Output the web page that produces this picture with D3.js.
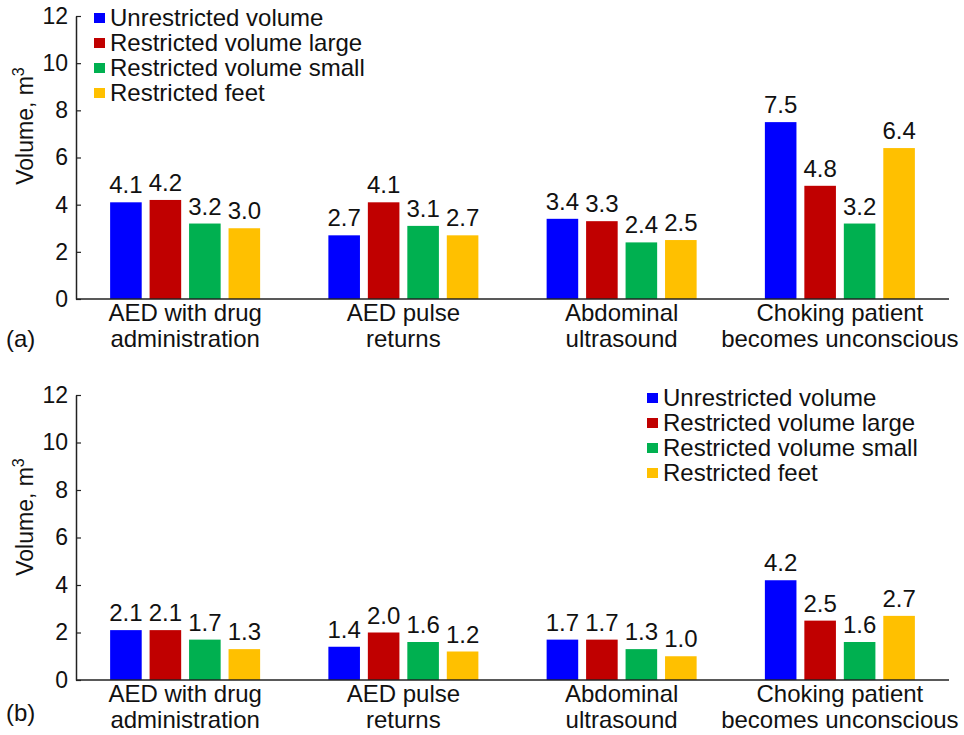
<!DOCTYPE html>
<html>
<head>
<meta charset="utf-8">
<script src="https://cdn.jsdelivr.net/npm/d3@7"></script>
<style>
  html, body { margin: 0; padding: 0; background: #fff; }
  svg { display: block; font-family: "Liberation Sans", Arial, sans-serif; }
</style>
</head>
<body>
<svg id="chart" width="964" height="735"></svg>
<script>
const categories = [
  ["AED with drug", "administration"],
  ["AED pulse", "returns"],
  ["Abdominal", "ultrasound"],
  ["Choking patient", "becomes unconscious"]
];
const seriesNames = ["Unrestricted volume", "Restricted volume large", "Restricted volume small", "Restricted feet"];
const seriesColors = ["#0000FF", "#C00000", "#00B050", "#FFC000"];
const yTicks = [0, 2, 4, 6, 8, 10, 12];

// Panel (a) values, per category, per series
const valuesA = [
  [4.1, 4.2, 3.2, 3.0],
  [2.7, 4.1, 3.1, 2.7],
  [3.4, 3.3, 2.4, 2.5],
  [7.5, 4.8, 3.2, 6.4]
];
// Panel (b) values
const valuesB = [
  [2.1, 2.1, 1.7, 1.3],
  [1.4, 2.0, 1.6, 1.2],
  [1.7, 1.7, 1.3, 1.0],
  [4.2, 2.5, 1.6, 2.7]
];

const svg = d3.select("#chart");
const FS = 24;
const FT = 23;

function drawPanel(cfg) {
  const g = svg.append("g");
  const x = d3.scaleBand().domain(d3.range(categories.length)).range([cfg.x0, cfg.x1]).padding(0);
  const xs = d3.scaleBand().domain(d3.range(seriesNames.length)).range([-75, 75]).paddingInner(0.2).paddingOuter(0);
  const y = d3.scaleLinear().domain([0, 12]).range([cfg.yBottom, cfg.yTop]);

  // bars
  cfg.values.forEach((vals, ci) => {
    const cx = x(ci) + x.bandwidth() / 2;
    vals.forEach((v, si) => {
      g.append("rect")
        .attr("x", cx + xs(si))
        .attr("y", y(v))
        .attr("width", xs.bandwidth())
        .attr("height", y(0) - y(v))
        .attr("fill", seriesColors[si]);
      g.append("text")
        .attr("x", cx + xs(si) + xs.bandwidth() / 2)
        .attr("y", y(v) - 9)
        .attr("text-anchor", "middle")
        .attr("font-size", FS)
        .attr("fill", "#111")
        .text(v.toFixed(1));
    });
    // category label
    const t = g.append("text")
      .attr("text-anchor", "middle")
      .attr("font-size", FS)
      .attr("fill", "#111");
    categories[ci].forEach((line, li) => {
      t.append("tspan").attr("x", cx).attr("y", cfg.yBottom + 22 + li * 25.5).text(line);
    });
  });

  // y axis
  const yAxis = d3.axisLeft(y).tickValues(yTicks).tickSizeInner(-5).tickSizeOuter(0).tickPadding(8);
  const ya = g.append("g").attr("transform", `translate(${cfg.x0},0)`).call(yAxis);
  ya.select(".domain").attr("stroke", "#222").attr("stroke-width", 1.5);
  ya.selectAll(".tick line").attr("stroke", "#222").attr("stroke-width", 1.2);
  ya.selectAll(".tick text").attr("font-size", FT).attr("fill", "#111").attr("font-family", "Liberation Sans, Arial, sans-serif");

  // x axis line
  g.append("line")
    .attr("x1", cfg.x0).attr("x2", cfg.x1)
    .attr("y1", y(0)).attr("y2", y(0))
    .attr("stroke", "#222").attr("stroke-width", 1.5);

  // y title
  const yt = g.append("text")
    .attr("transform", `translate(33,${cfg.titleY}) rotate(-90)`)
    .attr("text-anchor", "middle")
    .attr("font-size", FT)
    .attr("fill", "#111");
  yt.append("tspan").text("Volume, m");
  yt.append("tspan").attr("dy", -9).attr("font-size", 16).text("3");

  // panel label
  g.append("text")
    .attr("x", 6).attr("y", cfg.panelLabelY)
    .attr("font-size", FS).attr("fill", "#111")
    .text(cfg.label);

  // legend
  const lg = g.append("g").attr("transform", `translate(${cfg.legX},${cfg.legY})`);
  seriesNames.forEach((name, i) => {
    lg.append("rect").attr("x", 0).attr("y", i * 25 - 5).attr("width", 11).attr("height", 10).attr("fill", seriesColors[i]);
    lg.append("text").attr("x", 16).attr("y", i * 25 + 8).attr("font-size", FS).attr("fill", "#111").text(name);
  });
}

drawPanel({ values: valuesA, x0: 76, x1: 949, yTop: 16, yBottom: 299, titleY: 126, panelLabelY: 347, label: "(a)", legX: 94, legY: 18 });
drawPanel({ values: valuesB, x0: 76, x1: 949, yTop: 395, yBottom: 680, titleY: 517, panelLabelY: 721, label: "(b)", legX: 647, legY: 398 });
</script>
</body>
</html>
